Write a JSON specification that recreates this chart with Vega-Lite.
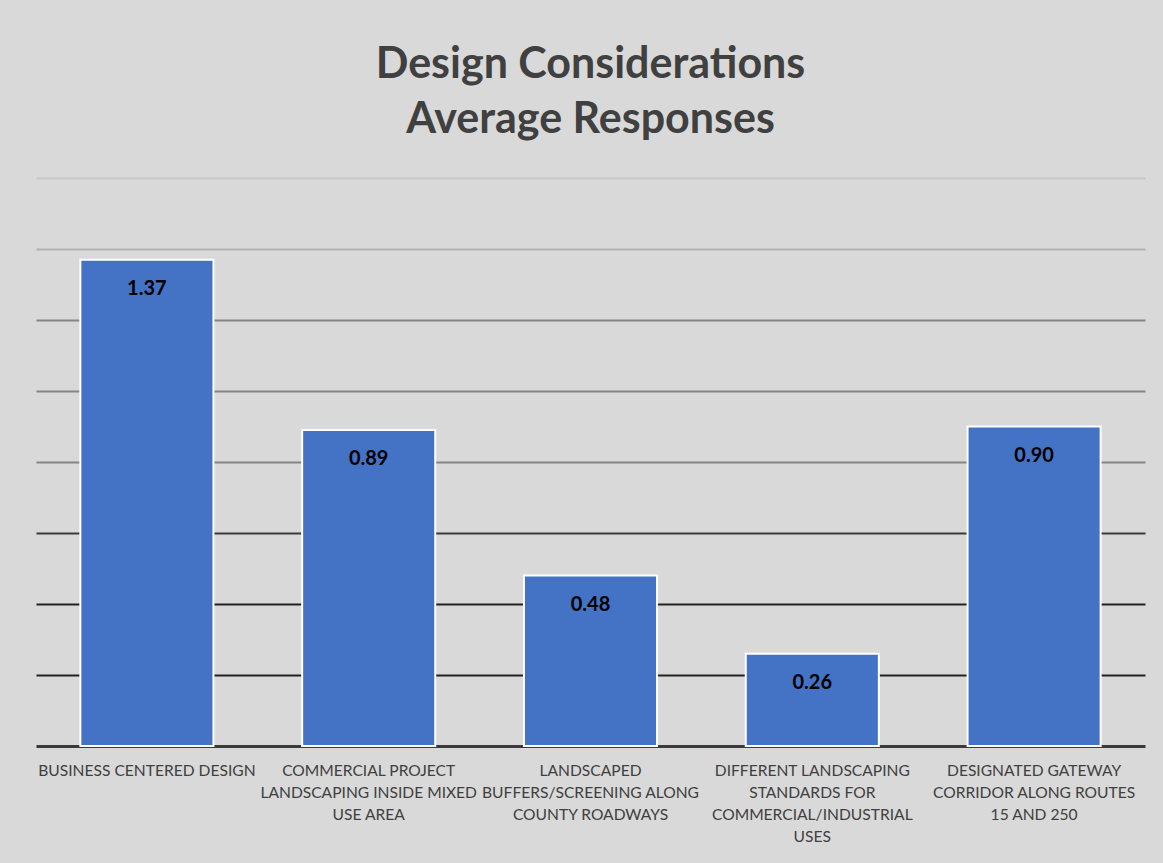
{
  "$schema": "https://vega.github.io/schema/vega-lite/v6.json",
  "width": 1109,
  "height": 568,
  "autosize": {"type": "none"},
  "padding": {"left": 36, "top": 178, "right": 18, "bottom": 117},
  "background": "#d9d9d9",
  "config": {"view": {"stroke": null}, "font": "Lato"},
  "title": {
    "text": ["Design Considerations", "Average Responses"],
    "anchor": "middle",
    "frame": "group",
    "font": "Lato",
    "fontSize": 43,
    "fontWeight": "bold",
    "color": "#404040",
    "lineHeight": 55,
    "offset": 36
  },
  "data": {
    "values": [
      {"item": "BUSINESS CENTERED DESIGN", "avg": 1.37},
      {"item": "COMMERCIAL PROJECT LANDSCAPING INSIDE MIXED USE AREA", "avg": 0.89},
      {"item": "LANDSCAPED BUFFERS/SCREENING ALONG COUNTY ROADWAYS", "avg": 0.48},
      {"item": "DIFFERENT LANDSCAPING STANDARDS FOR COMMERCIAL/INDUSTRIAL USES", "avg": 0.26},
      {"item": "DESIGNATED GATEWAY CORRIDOR ALONG ROUTES 15 AND 250", "avg": 0.90}
    ]
  },
  "encoding": {
    "x": {
      "field": "item",
      "type": "nominal",
      "sort": null,
      "scale": {"paddingInner": 0.4, "paddingOuter": 0.2},
      "axis": {
        "title": null,
        "labelAngle": 0,
        "ticks": false,
        "domain": true,
        "domainColor": "#3a3a3a",
        "domainWidth": 3,
        "labelFont": "Lato",
        "labelFontSize": 15.6,
        "labelColor": "#404040",
        "labelLineHeight": 22.3,
        "labelBaseline": "top",
        "labelPadding": 17,
        "labelOverlap": false,
        "labelLimit": 400,
        "labelExpr": "datum.label == 'COMMERCIAL PROJECT LANDSCAPING INSIDE MIXED USE AREA' ? ['COMMERCIAL PROJECT', 'LANDSCAPING INSIDE MIXED', 'USE AREA'] : datum.label == 'LANDSCAPED BUFFERS/SCREENING ALONG COUNTY ROADWAYS' ? ['LANDSCAPED', 'BUFFERS/SCREENING ALONG', 'COUNTY ROADWAYS'] : datum.label == 'DIFFERENT LANDSCAPING STANDARDS FOR COMMERCIAL/INDUSTRIAL USES' ? ['DIFFERENT LANDSCAPING', 'STANDARDS FOR', 'COMMERCIAL/INDUSTRIAL', 'USES'] : datum.label == 'DESIGNATED GATEWAY CORRIDOR ALONG ROUTES 15 AND 250' ? ['DESIGNATED  GATEWAY', 'CORRIDOR ALONG ROUTES', '15 AND 250'] : datum.label"
      }
    },
    "y": {
      "field": "avg",
      "type": "quantitative",
      "scale": {"domain": [0, 1.6], "nice": false},
      "axis": {
        "title": null,
        "labels": false,
        "ticks": false,
        "domain": false,
        "grid": true,
        "values": [0.2, 0.4, 0.6, 0.8, 1.0, 1.2, 1.4, 1.6],
        "gridWidth": 2,
        "gridColor": {
          "condition": [
            {"test": "datum.value >= 1.55", "value": "#c6c6c6"},
            {"test": "datum.value >= 1.35", "value": "#b2b2b2"},
            {"test": "datum.value >= 0.75", "value": "#858585"},
            {"test": "datum.value >= 0.55", "value": "#3a3a3a"}
          ],
          "value": "#222222"
        }
      }
    }
  },
  "layer": [
    {
      "mark": {"type": "bar", "color": "#4472C4", "stroke": "white", "strokeWidth": 2}
    },
    {
      "mark": {"type": "text", "baseline": "middle", "dy": 29, "font": "Lato", "fontSize": 20, "fontWeight": "bold", "color": "black"},
      "encoding": {"text": {"field": "avg", "type": "quantitative", "format": ".2f"}}
    }
  ]
}
